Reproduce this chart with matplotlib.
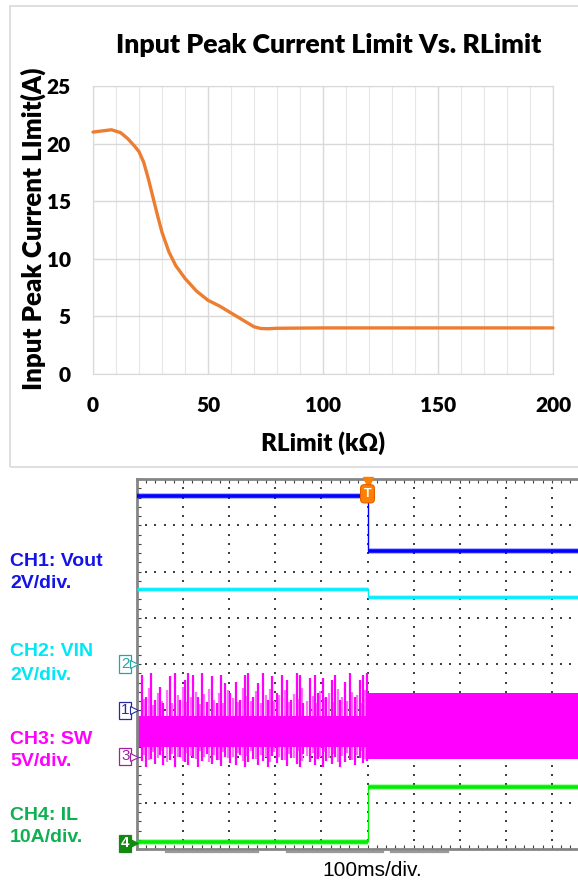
import matplotlib
matplotlib.use("Agg")
import matplotlib.pyplot as plt
import matplotlib.transforms as mtransforms
from matplotlib.patches import Rectangle
import numpy as np

# ---------------- top chart: input peak current limit vs RLimit ----------------
rlimit_kohm = [0, 4, 8, 12, 15, 18, 20, 22, 24, 26, 28, 30, 33, 36, 40, 45, 50,
               55, 60, 65, 70, 73, 76, 80, 100, 150, 200]
ipk_limit_a = [21.0, 21.1, 21.2, 20.95, 20.45, 19.8, 19.3, 18.4, 17.0, 15.4, 13.8, 12.3, 10.6,
               9.4, 8.3, 7.2, 6.4, 5.9, 5.3, 4.7, 4.1, 3.95, 3.93, 3.97, 4.0, 4.0, 4.0]
x_ticks = [0, 50, 100, 150, 200]
y_ticks = [0, 5, 10, 15, 20, 25]

# ---------------- bottom: scope capture (100 ms/div, trigger at centre) ----------------
t_start, t_trig, t_end = -500, 0, 500          # ms
ch_names = ["CH1: Vout", "CH2: VIN", "CH3: SW", "CH4: IL"]
ch_scales = ["2V/div.", "2V/div.", "5V/div.", "10A/div."]
ch_per_div = [2, 2, 5, 10]
ch_zero_div = [3.0, 4.0, 2.0, 0.12]             # ground marker position (div)

vout_v = [9.28, 6.9]      # before / after trigger
vin_v = [3.24, 2.88]
il_a = [0.4, 12.3]

# SW node: burst switching before trigger, steady switching after
sw_core_before_v = [1.0, 4.4]
sw_band_after_v = [-0.25, 6.85]
sw_spike_t_ms = [-490, -480, -470, -461, -450, -443, -428, -418, -407, -396,
                 -389, -378, -367, -360, -349, -338, -327, -318, -309, -298,
                 -285, -277, -266, -259, -248, -237, -226, -215, -208, -197,
                 -186, -175, -165, -154, -146, -139, -125, -114, -107, -97,
                 -89, -78, -71, -60, -49, -38, -27, -16, -9, -1]
sw_spike_hi_v = [8.8, 6.45, 9.0, 6.1, 7.55, 5.75, 8.65, 9.0, 6.1, 8.25,
                 9.0, 8.8, 6.45, 9.0, 5.9, 8.65, 5.75, 8.8, 7.9, 6.85,
                 8.1, 6.1, 8.8, 9.0, 6.45, 7.9, 9.0, 6.1, 8.65, 6.85,
                 8.8, 8.25, 6.1, 9.0, 8.8, 5.75, 8.45, 8.8, 6.85, 8.45,
                 6.45, 8.25, 8.8, 6.1, 8.1, 9.0, 6.45, 8.25, 8.8, 9.0]
sw_spike_lo_v = [-0.5, -1.1, -0.3, -0.8, 0.2, -0.9, -0.4, -1.1, 0.0, -0.6,
                 -0.9, -0.2, -1.1, -0.5, 0.3, -0.8, -0.4, -1.0, -0.1, -0.7,
                 -0.9, 0.2, -1.1, -0.6, -0.3, -0.9, -0.5, -1.1, 0.1, -0.7,
                 -0.4, -1.0, -0.2, -0.8, -1.1, 0.3, -0.6, -0.9, -0.3, -1.1,
                 -0.5, -0.8, 0.0, -1.1, -0.6, -0.4, -0.9, -0.2, -0.7, -0.5]
# fainter, shorter bursts in between
sw_mid_t_ms = [-485, -475, -466, -455, -446, -436, -423, -412, -401, -392,
               -383, -372, -363, -354, -343, -332, -322, -313, -303, -292,
               -281, -271, -262, -253, -242, -231, -220, -211, -202, -191,
               -180, -170, -159, -150, -142, -132, -119, -110, -102, -93,
               -83, -74, -65, -55, -44, -33, -22, -12, -5]
sw_mid_hi_v = [6.2, 7.4, 5.6, 6.9, 6.0, 7.2, 5.8, 6.6, 7.5, 5.9,
               6.4, 7.0, 5.7, 6.8, 7.3, 6.1, 6.9, 5.8, 7.2, 6.3,
               5.9, 7.4, 6.5, 6.0, 7.1, 5.8, 6.7, 7.3, 6.0, 6.6,
               7.2, 5.9, 6.8, 6.2, 7.4, 6.0, 6.5, 5.8, 7.1, 6.3,
               6.9, 5.9, 7.3, 6.4, 6.0, 7.0, 6.6, 5.8, 7.2]
sw_mid_lo_v = [0.2, -0.4, 0.5, -0.2, 0.6, -0.6, 0.3, 0.0, -0.5, 0.4,
               0.1, -0.3, 0.6, -0.1, -0.6, 0.2, -0.4, 0.5, -0.2, 0.0,
               0.4, -0.5, 0.1, 0.6, -0.3, 0.2, -0.1, -0.6, 0.5, 0.0,
               -0.4, 0.3, -0.2, 0.6, -0.5, 0.1, 0.4, -0.3, 0.0, 0.5,
               -0.2, 0.3, -0.6, 0.1, 0.4, -0.4, 0.2, 0.6, -0.3]

W, H = 578, 882
fig = plt.figure(figsize=(W / 100, H / 100), dpi=100)


def fx(px):
    return px / W


def fy(py):
    return 1 - py / H


# chart frame
fig.patches.append(Rectangle((fx(10), fy(467)), fx(600), fy(6) - fy(467),
                             transform=fig.transFigure, fill=False,
                             edgecolor="#d9d9d9", lw=1.2))

top_font = "Lato"
ax1 = fig.add_axes([fx(93), fy(374), fx(553) - fx(93), fy(86) - fy(374)])
ax1.plot(rlimit_kohm, ipk_limit_a, color="#ED7D31", lw=2.4,
         solid_capstyle="round", solid_joinstyle="round", clip_on=False, zorder=3)
ax1.set_xlim(0, 200)
ax1.set_ylim(0, 25)
ax1.set_xticks(x_ticks)
ax1.set_yticks(y_ticks)
ax1.set_xticks(np.arange(0, 201, 10), minor=True)
ax1.grid(True, which="major", color="#d9d9d9", lw=1.0)
ax1.grid(True, which="minor", axis="x", color="#e6e6e6", lw=0.8)
for s in ax1.spines.values():
    s.set_color("#d9d9d9")
ax1.tick_params(which="both", length=0)
ax1.tick_params(axis="x", pad=16)
ax1.tick_params(axis="y", pad=16)
for lab in ax1.get_xticklabels() + ax1.get_yticklabels():
    lab.set_fontfamily(top_font)
    lab.set_fontweight("heavy")
    lab.set_fontsize(15)
fig.text(fx(329), fy(45), "Input Peak Current Limit Vs. RLimit", ha="center",
         va="center", fontsize=19.3, fontweight="heavy", family=top_font)
fig.text(fx(323), fy(443), "RLimit (k\u03a9)", ha="center", va="center",
         fontsize=17.4, fontweight="heavy", family=top_font)
fig.text(fx(33), fy(229), "Input Peak Current LImit(A)", ha="center", va="center",
         rotation=90, fontsize=18.6, fontweight="heavy", family=top_font)

# ---------------- scope ----------------
sc_font = "Liberation Sans"
ax2 = fig.add_axes([fx(137), fy(849), fx(598) - fx(137), fy(479) - fy(849)])
ax2.set_xlim(t_start, t_end)
ax2.set_ylim(0, 8)

# graticule dots
gx, gy = np.meshgrid(np.arange(-400, 500, 100), np.arange(0.2, 8, 0.2))
ax2.scatter(gx.ravel(), gy.ravel(), s=1.3, marker="s", color="#404040", lw=0, zorder=1)
gx, gy = np.meshgrid(np.arange(-480, 500, 20), np.arange(1, 8, 1))
ax2.scatter(gx.ravel(), gy.ravel(), s=1.3, marker="s", color="#404040", lw=0, zorder=1)

ax2.set_xticks(np.arange(-500, 501, 100))
ax2.set_xticks(np.arange(-500, 501, 20), minor=True)
ax2.set_yticks(np.arange(0, 9, 1))
ax2.set_yticks(np.arange(0, 8.01, 0.2), minor=True)
ax2.tick_params(which="both", direction="in", top=True, bottom=True, left=True,
                right=False, length=3, width=0.8, color="#404040",
                labelbottom=False, labelleft=False)
for side in ["left", "top", "bottom"]:
    ax2.spines[side].set_color("#858585")
    ax2.spines[side].set_linewidth(2)
ax2.spines["right"].set_visible(False)


def to_div(v, ch):
    return ch_zero_div[ch] + np.asarray(v, dtype=float) / ch_per_div[ch]


col_ch = ["#0000ff", "#00f0ff", "#ff00ff", "#00ee00"]
txt_ch = ["#1414e6", "#00e8f5", "#ff00ff", "#0fb050"]
mark_ch = ["#2a2aa0", "#20a8a8", "#a020a0", "#128a12"]

# CH3 SW
ax2.vlines(sw_mid_t_ms, to_div(sw_mid_lo_v, 2), to_div(sw_mid_hi_v, 2),
           color="#ff70ff", lw=1.6, zorder=2)
ax2.vlines(sw_spike_t_ms, to_div(sw_spike_lo_v, 2), to_div(sw_spike_hi_v, 2),
           color="#ff00ff", lw=1.6, zorder=2)
lo, hi = to_div(sw_core_before_v, 2)
ax2.fill_between([t_start, t_trig], lo, hi, color="#ff00ff", lw=0, zorder=2)
lo, hi = to_div(sw_band_after_v, 2)
ax2.fill_between([t_trig, t_end], lo, hi, color="#ff00ff", lw=0, zorder=2)


def step_trace(vals, ch, lw):
    y0, y1 = to_div(vals, ch)
    ax2.hlines([y0, y1], [t_start, t_trig], [t_trig, t_end], color=col_ch[ch],
               lw=lw + 1.5, alpha=0.35, zorder=3)
    ax2.hlines([y0, y1], [t_start, t_trig], [t_trig, t_end], color=col_ch[ch],
               lw=lw, zorder=3)
    ax2.vlines(t_trig, y0, y1, color=col_ch[ch], lw=1.0, zorder=3)


step_trace(il_a, 3, 2.6)
step_trace(vin_v, 1, 2.0)
step_trace(vout_v, 0, 2.6)

# trigger marker
ax2.plot([t_trig], [7.93], marker="v", ms=6.5, color="#ff8000", mec="#ff8000",
         clip_on=False, zorder=6)
ax2.text(t_trig, 7.68, "T", ha="center", va="center", color="white", fontsize=9,
         fontweight="bold", family=sc_font, zorder=7,
         bbox=dict(boxstyle="round,pad=0.25,rounding_size=0.3", fc="#ff8000",
                   ec="#e06000", lw=0.8))

# channel ground markers
blend = mtransforms.blended_transform_factory(ax2.transAxes, ax2.transData)
for ch, num in zip([1, 0, 2, 3], ["2", "1", "3", "4"]):
    filled = num == "4"
    ax2.text(-0.0255, ch_zero_div[ch], num, transform=blend, ha="center", va="center",
             fontsize=11, family=sc_font, fontweight="bold" if filled else "normal",
             color="white" if filled else mark_ch[ch], zorder=8, clip_on=False,
             bbox=dict(boxstyle="square,pad=0.1", fc=mark_ch[ch] if filled else "white",
                       ec=mark_ch[ch], lw=0.9))
    ax2.plot([-0.0075], [ch_zero_div[ch]], transform=blend, marker=">", ms=5.5,
             color=mark_ch[ch] if filled else "white", mec=mark_ch[ch], mew=0.8,
             clip_on=False, zorder=8)

# record-view bars under the screen
for a, b in [(0.063, 0.262), (0.325, 0.534), (0.551, 0.675)]:
    ax2.plot([a, b], [-0.007, -0.007], transform=ax2.transAxes, color="#9a9a9a",
             lw=1.6, clip_on=False)

# channel labels
label_y = [(562, 584), (651, 675), (739, 762), (815, 837)]
for ch in range(4):
    fig.text(fx(10), fy(label_y[ch][0]), ch_names[ch], ha="left", va="center",
             fontsize=14, fontweight="bold", family=sc_font, color=txt_ch[ch])
    fig.text(fx(10), fy(label_y[ch][1]), ch_scales[ch], ha="left", va="center",
             fontsize=14, fontweight="bold", family=sc_font, color=txt_ch[ch])
fig.text(fx(372), fy(870), "100ms/div.", ha="center", va="center", fontsize=15,
         family=sc_font, color="black")

fig.savefig("out.png", dpi=100)
